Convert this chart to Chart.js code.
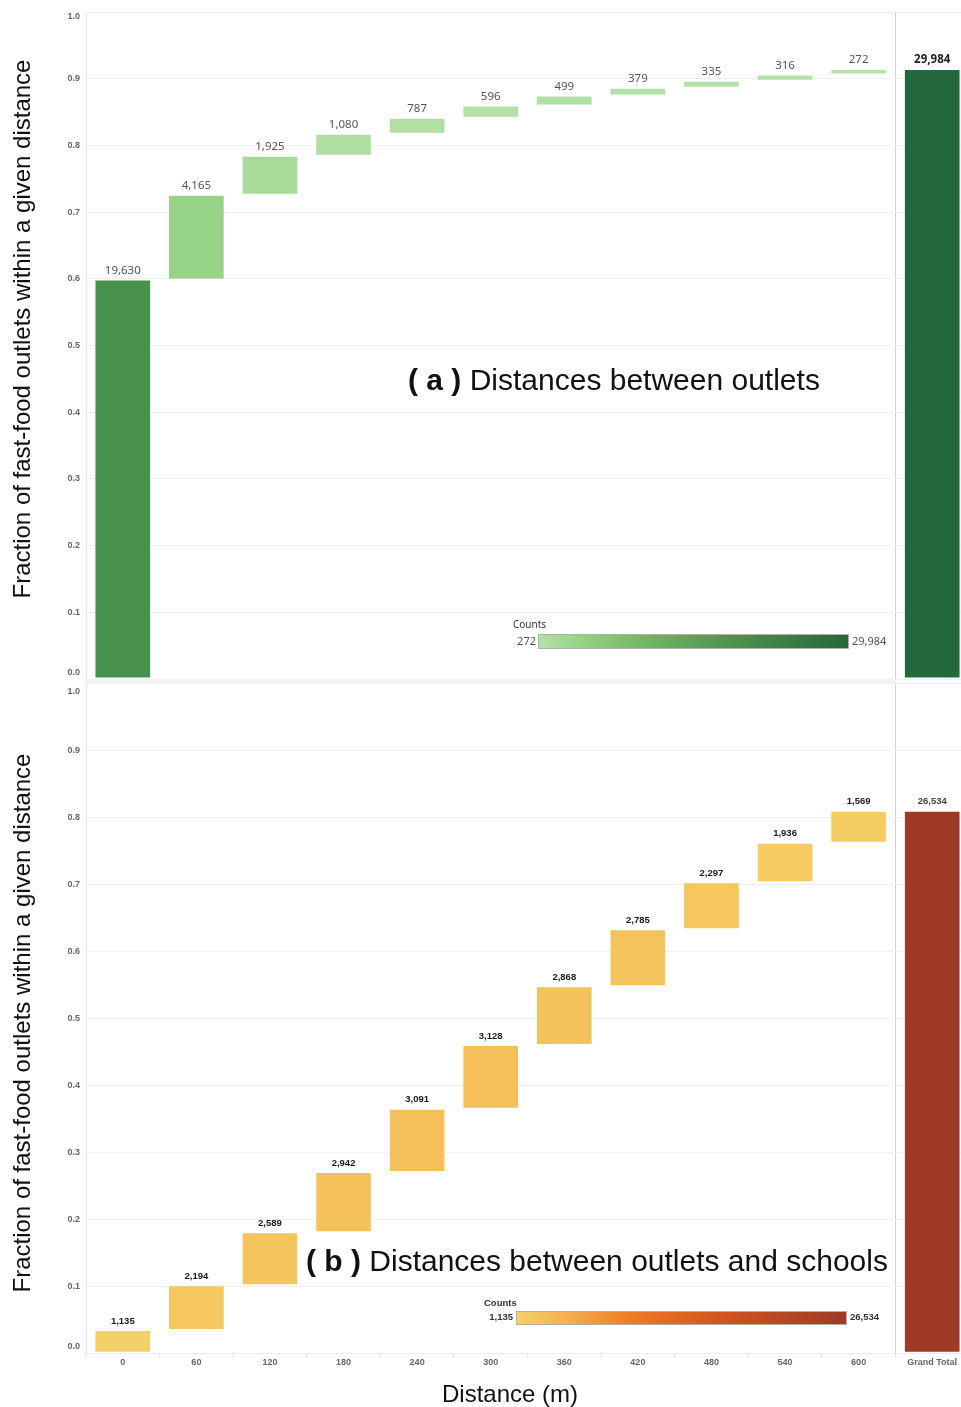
<!DOCTYPE html>
<html>
<head>
<meta charset="utf-8">
<script src="https://cdn.jsdelivr.net/npm/chart.js@4.4.1/dist/chart.umd.min.js"></script>
<style>
  html, body { margin: 0; padding: 0; background: #fff; overflow: hidden; }
  #page { position: relative; width: 961px; height: 1407px; overflow: hidden; font-family: "Liberation Sans", Arial, sans-serif; }
  canvas { position: absolute; left: 0; z-index: 1; }
  .band { position: absolute; left: 86px; top: 679px; width: 810px; height: 5px; background: #f2f2f2; z-index: 0; }
  .ytitle { position: absolute; width: 620px; height: 28px; line-height: 28px; font-size: 24px; color: #111; text-align: center; transform: rotate(-90deg); z-index: 2; white-space: nowrap; }
  .xtitle { position: absolute; left: 410px; top: 1380px; width: 200px; line-height: 28px; font-size: 24px; color: #111; text-align: center; z-index: 2; }
  .panel { position: absolute; font-size: 30px; line-height: 34px; color: #111; white-space: nowrap; z-index: 2; }
  .legend-title, .legend-end { position: absolute; white-space: nowrap; z-index: 2; }
  .legend-bar { position: absolute; box-sizing: border-box; border: 1px solid #b5b1a2; z-index: 2; }
  .green { font-family: "Noto Sans", sans-serif; color: #555; font-size: 11px; line-height: 14px; }
  .orange { font-weight: bold; color: #333; font-size: 9.5px; line-height: 12px; }
</style>
</head>
<body>
<div id="page">
  <div class="band"></div>
  <canvas id="outlets" width="975" height="694" style="top:0"></canvas>
  <canvas id="schools" width="975" height="742" style="top:665px"></canvas>

  <div class="ytitle" style="left:-288px; top:315px">Fraction of fast-food outlets within a given distance</div>
  <div class="ytitle" style="left:-288px; top:1009px">Fraction of fast-food outlets within a given distance</div>
  <div class="xtitle">Distance (m)</div>

  <div class="panel" style="left:408px; top:363px"><b>( a )</b> Distances between outlets</div>
  <div class="panel" style="left:306px; top:1244px"><b>( b )</b> Distances between outlets and schools</div>

  <div class="legend-title green" style="left:513px; top:617px; font-size:10px; color:#333">Counts</div>
  <div class="legend-end green" id="outletsMin" style="left:496px; width:40px; text-align:right; top:634px"></div>
  <div class="legend-bar" id="outletsBar" style="left:538px; top:634px; width:311px; height:15px"></div>
  <div class="legend-end green" id="outletsMax" style="left:852px; top:634px"></div>

  <div class="legend-title orange" style="left:484px; top:1297px">Counts</div>
  <div class="legend-end orange" id="schoolsMin" style="left:473px; width:40px; text-align:right; top:1311px"></div>
  <div class="legend-bar" id="schoolsBar" style="left:516px; top:1311px; width:331px; height:14px"></div>
  <div class="legend-end orange" id="schoolsMax" style="left:850px; top:1311px"></div>
</div>

<script>
// distance bins (m)
const distances = ['0', '60', '120', '180', '240', '300', '360', '420', '480', '540', '600'];
const totalLabel = 'Grand Total';

// (a) outlet-to-outlet counts per bin
const outletCounts = [19630, 4165, 1925, 1080, 787, 596, 499, 379, 335, 316, 272];
const outletTotal = 29984;

// (b) outlet-to-school counts per bin
const schoolCounts = [1135, 2194, 2589, 2942, 3091, 3128, 2868, 2785, 2297, 1936, 1569];
const schoolTotal = 26534;

// number of outlets used as the denominator for the fractions
const allOutlets = 32780;

const greenStops = [[0, '#b5e1a8'], [0.13, '#96d387'], [0.35, '#70b566'], [0.65, '#46924c'], [1, '#226a3d']];
const orangeStops = [[0, '#f4d166'], [0.15, '#f5b04e'], [0.35, '#ee7a22'], [0.6, '#d5561f'], [1, '#9e3a26']];

Chart.defaults.font.family = '"Liberation Sans", Arial, sans-serif';
Chart.defaults.animation = false;

function hexToRgb(h) {
    return [1, 3, 5].map(i => parseInt(h.slice(i, i + 2), 16));
}

function pickColor(stops, t) {
    t = Math.max(0, Math.min(1, t));
    for (let i = 1; i < stops.length; i++) {
        if (t <= stops[i][0]) {
            const [t0, c0] = stops[i - 1];
            const [t1, c1] = stops[i];
            const f = (t - t0) / (t1 - t0);
            const a = hexToRgb(c0), b = hexToRgb(c1);
            return 'rgb(' + a.map((v, k) => Math.round(v + (b[k] - v) * f)).join(',') + ')';
        }
    }
    return stops[stops.length - 1][1];
}

function cssGradient(stops) {
    return 'linear-gradient(to right, ' + stops.map(s => s[1] + ' ' + (s[0] * 100) + '%').join(', ') + ')';
}

// running fractions: each bin floats on top of the previous ones, total starts at 0
function waterfall(counts, total) {
    let run = 0;
    const bars = counts.map(c => {
        const from = run / allOutlets;
        run += c;
        return [from, run / allOutlets];
    });
    bars.push([0, total / allOutlets]);
    return bars;
}

const fmt = n => n.toLocaleString('en-US');

const valueLabels = {
    id: 'valueLabels',
    afterDatasetsDraw(chart, args, opts) {
        const ctx = chart.ctx;
        const meta = chart.getDatasetMeta(0);
        ctx.save();
        ctx.textAlign = 'center';
        ctx.textBaseline = 'middle';
        meta.data.forEach((bar, i) => {
            const last = i === meta.data.length - 1;
            ctx.font = last ? opts.totalFont : opts.font;
            ctx.fillStyle = last ? opts.totalColor : opts.color;
            ctx.fillText(fmt(opts.counts[i]), bar.x, Math.min(bar.y, bar.base) - 9);
        });
        ctx.restore();
    }
};

function makeChart(id, counts, total, stops, cfg) {
    const all = counts.concat([total]);
    const lo = Math.min(...all), hi = Math.max(...all);
    return new Chart(document.getElementById(id), {
        type: 'bar',
        data: {
            labels: distances.concat([totalLabel]),
            datasets: [{
                data: waterfall(counts, total),
                backgroundColor: all.map(c => pickColor(stops, (c - lo) / (hi - lo))),
                borderColor: 'rgba(255,255,255,0.35)',
                borderWidth: 1,
                borderSkipped: false,
                barPercentage: 0.77,
                categoryPercentage: 1
            }]
        },
        options: {
            responsive: false,
            layout: { padding: cfg.padding },
            plugins: {
                legend: { display: false },
                tooltip: { enabled: false },
                valueLabels: Object.assign({ counts: all }, cfg.labels)
            },
            scales: {
                x: {
                    ticks: {
                        display: cfg.showX,
                        padding: 0,
                        color: '#666',
                        font: { size: 9, weight: 'bold' },
                        maxRotation: 0,
                        autoSkip: false
                    },
                    grid: {
                        offset: true,
                        color: c => c.index === 11 ? '#d2d2d2' : 'rgba(0,0,0,0)',
                        drawTicks: cfg.showX,
                        tickLength: 4,
                        tickColor: '#e2e2e2'
                    },
                    border: { display: cfg.showX, color: '#ececec' }
                },
                y: {
                    min: 0,
                    max: 1,
                    afterFit: s => { s.width = 86; },
                    ticks: {
                        stepSize: 0.1,
                        padding: 0,
                        color: '#666',
                        callback: v => v === 0 ? ['0.0', ''] : v === 1 ? ['', '1.0'] : v.toFixed(1),
                        font: c => {
                            const v = c.tick ? c.tick.value : 0.5;
                            const lh = v === 0 ? cfg.edgeLow : v === 1 ? cfg.edgeHigh : '11px';
                            return { size: 9, weight: 'bold', lineHeight: lh };
                        }
                    },
                    grid: { color: '#efefef', tickLength: 6, tickColor: 'rgba(0,0,0,0)' },
                    border: { color: '#e6e6e6' }
                }
            }
        },
        plugins: [valueLabels]
    });
}

makeChart('outlets', outletCounts, outletTotal, greenStops, {
    padding: { top: 12, bottom: 15, left: 0, right: 6 },
    showX: false,
    edgeLow: '12px',
    edgeHigh: '10px',
    labels: {
        font: '11.5px "Noto Sans", sans-serif',
        color: '#555',
        totalFont: 'bold 11.5px "Noto Sans", sans-serif',
        totalColor: '#222'
    }
});

makeChart('schools', schoolCounts, schoolTotal, orangeStops, {
    padding: { top: 18, bottom: 39, left: 0, right: 6 },
    showX: true,
    edgeLow: '14px',
    edgeHigh: '18px',
    labels: {
        font: 'bold 9.5px "Liberation Sans", Arial, sans-serif',
        color: '#1a1a1a',
        totalFont: 'bold 9.5px "Liberation Sans", Arial, sans-serif',
        totalColor: '#444'
    }
});

// colour legends
const outletsAll = outletCounts.concat([outletTotal]);
const schoolsAll = schoolCounts.concat([schoolTotal]);
document.getElementById('outletsBar').style.background = cssGradient(greenStops);
document.getElementById('schoolsBar').style.background = cssGradient(orangeStops);
document.getElementById('outletsMin').textContent = fmt(Math.min(...outletsAll));
document.getElementById('outletsMax').textContent = fmt(Math.max(...outletsAll));
document.getElementById('schoolsMin').textContent = fmt(Math.min(...schoolsAll));
document.getElementById('schoolsMax').textContent = fmt(Math.max(...schoolsAll));
</script>
</body>
</html>
